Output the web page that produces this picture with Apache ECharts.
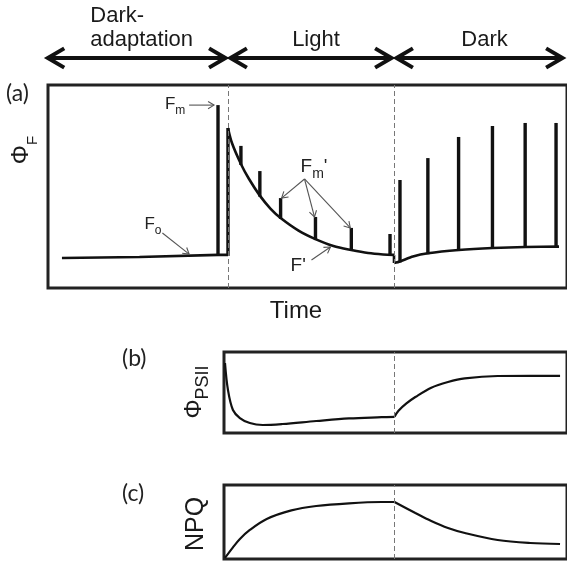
<!DOCTYPE html>
<html><head><meta charset="utf-8">
<script src="https://cdn.jsdelivr.net/npm/echarts@6/dist/echarts.min.js"></script>
<style>html,body{margin:0;padding:0;background:#fff}#c{width:567px;height:561px}</style>
</head><body><div id="c"></div>
<script>
// ---- phases (time in arbitrary units: light on at 0, off at 10) ----
const phaseNames = ['Dark-\nadaptation', 'Light', 'Dark'];
const phaseStart = [-11.0, 0, 10];
const phaseEnd = [0, 10, 20.3];
const boundaries = [0, 10];

// ---- panel (a): chlorophyll fluorescence trace ----
const baseT = [-10.0, -5.33, -0.6, 0];
const baseV = [14.8, 15.3, 16.3, 16.3];
const lightT = [0, 0.24, 0.78, 1.26, 1.92, 2.57, 3.17, 4.25, 5.27, 6.35, 7.43, 8.44, 9.34, 10.0];
const lightV = [78.8, 71.4, 61.1, 53.8, 45.5, 39.0, 34.5, 28.3, 24.1, 20.7, 18.7, 17.2, 16.5, 16.3];
const stepT = [10.0, 10.0];
const stepV = [16.3, 12.3];
const darkT = [10.0, 10.36, 11.14, 12.04, 13.89, 15.93, 17.9, 19.94];
const darkV = [12.3, 13.1, 15.5, 17.1, 18.7, 19.7, 20.2, 20.4];
// saturating pulses
const pulseT = [-0.6, 0, 0.78, 1.92, 3.17, 5.27, 7.43, 9.76, 10.36, 12.04, 13.89, 15.93, 17.9, 19.76];
const pulseBase = [16.3, 16.3, 61.1, 45.5, 34.5, 24.1, 18.7, 16.3, 13.1, 17.1, 18.7, 19.7, 20.2, 20.4];
const pulseTop = [90.1, 78.8, 70.0, 57.6, 44.3, 35.0, 29.6, 26.6, 53.2, 64.0, 74.4, 79.8, 81.3, 81.3];
// annotations
const annText = ['{f|F}{s|m}', '{f|F}{s|o}', "{g|F}{t|m}{g|'}", "{g|F'}"];
const annT = [-2.57, -5.03, 4.37, 3.77];
const annV = [89.7, 30.5, 58.4, 9.9];
const annAlign = ['right', 'left', 'left', 'left'];
const arrowFromT = [-2.34, -3.95, 4.61, 4.61, 4.61, 5.03];
const arrowFromV = [90.1, 27.1, 53.7, 53.7, 53.7, 13.8];
const arrowToT = [-0.84, -2.34, 3.23, 5.21, 7.37, 6.17];
const arrowToV = [90.1, 16.7, 44.3, 35.0, 29.6, 20.2];

// ---- panel (b): PSII efficiency ----
const psiiLightT = [-0.24, -0.06, 0.24, 0.66, 1.26, 2.04, 3.23, 5.27, 7.25, 9.22, 10.0];
const psiiLightV = [86.4, 53.1, 28.4, 18.5, 12.3, 9.9, 11.1, 14.8, 18.0, 19.5, 20.0];
const psiiDarkT = [10.0, 10.24, 10.72, 11.26, 12.22, 13.23, 14.25, 16.23, 18.2, 20.0];
const psiiDarkV = [20.0, 27.5, 36.5, 44.4, 56.0, 63.0, 67.5, 70.4, 70.6, 70.6];

// ---- panel (c): NPQ ----
const npqLightT = [-0.24, 0.24, 0.66, 1.26, 2.28, 3.77, 5.27, 7.25, 9.22, 10.0];
const npqLightV = [1.4, 15.7, 27.0, 39.2, 54.1, 65.7, 71.6, 75.3, 77.0, 77.0];
const npqDarkT = [10.0, 11.26, 12.22, 13.23, 14.25, 16.23, 18.2, 20.0];
const npqDarkV = [77.0, 62.2, 51.4, 41.9, 35.1, 25.7, 21.6, 20.3];

const FONT = '"Liberation Sans", Arial, Helvetica, sans-serif';
const LFONT = 'Lato, "DejaVu Sans", sans-serif';
const INK = '#111';
const zip = (a, b) => a.map((v, i) => [v, b[i]]);

const chart = echarts.init(document.getElementById('c'), null, {renderer: 'canvas'});

function chevron(x, y, ang, len, spread, style) {
  const a1 = ang + Math.PI - spread, a2 = ang + Math.PI + spread;
  return {type: 'polyline', shape: {points: [[x + len * Math.cos(a1), y + len * Math.sin(a1)], [x, y], [x + len * Math.cos(a2), y + len * Math.sin(a2)]]}, style: style};
}
function measure(text, font) {
  const c = document.createElement('canvas').getContext('2d');
  c.font = font;
  return Math.max.apply(null, text.split('\n').map(s => c.measureText(s).width));
}

const dashLine = {silent: true, symbol: ['none', 'none'], label: {show: false}, animation: false,
  lineStyle: {color: '#777', type: [5, 3], width: 1}};
const curveStyle = {color: INK, width: 2.6};
function lineSeries(x, y, data, smooth, extra) {
  return Object.assign({type: 'line', xAxisIndex: x, yAxisIndex: y, data: data, smooth: smooth,
    symbol: 'none', lineStyle: curveStyle, itemStyle: {color: INK}, silent: true, z: 3}, extra || {});
}

const option = {
  animation: false,
  grid: [
    {left: 48, top: 85, width: 522, height: 203, show: true, borderColor: '#222', borderWidth: 3, backgroundColor: 'transparent'},
    {left: 224, top: 352, width: 346, height: 81, show: true, borderColor: '#222', borderWidth: 3, backgroundColor: 'transparent'},
    {left: 224, top: 485, width: 346, height: 74, show: true, borderColor: '#222', borderWidth: 3, backgroundColor: 'transparent'},
    {left: 48, top: 20, width: 522, height: 38, show: false}
  ],
  xAxis: [
    {type: 'value', gridIndex: 0, min: -10.84, max: 20.42, show: false},
    {type: 'value', gridIndex: 1, min: -0.30, max: 20.42, show: false},
    {type: 'value', gridIndex: 2, min: -0.30, max: 20.42, show: false},
    {type: 'value', gridIndex: 3, min: -10.84, max: 20.42, show: false}
  ],
  yAxis: [
    {type: 'value', gridIndex: 0, min: 0, max: 100, show: false},
    {type: 'value', gridIndex: 1, min: 0, max: 100, show: false},
    {type: 'value', gridIndex: 2, min: 0, max: 100, show: false},
    {type: 'value', gridIndex: 3, min: 0, max: 1, show: false}
  ],
  series: [
    lineSeries(0, 0, zip(baseT, baseV), false, {markLine: Object.assign({data: boundaries.map(b => ({xAxis: b}))}, dashLine)}),
    lineSeries(0, 0, zip(lightT, lightV), 0.3),
    lineSeries(0, 0, zip(stepT, stepV), false),
    lineSeries(0, 0, zip(darkT, darkV), 0.2),
    {
      type: 'custom', xAxisIndex: 0, yAxisIndex: 0, silent: true, z: 4,
      data: pulseT.map((t, i) => [t, pulseBase[i], pulseTop[i]]),
      encode: {x: 0, y: [1, 2]},
      renderItem: function (params, api) {
        const p0 = api.coord([api.value(0), api.value(1)]);
        const p1 = api.coord([api.value(0), api.value(2)]);
        return {type: 'line', shape: {x1: p0[0], y1: p0[1] + 1, x2: p1[0], y2: p1[1]},
          style: {stroke: INK, lineWidth: 3.4, lineCap: 'butt'}};
      }
    },
    {
      type: 'custom', xAxisIndex: 0, yAxisIndex: 0, silent: true, z: 5,
      data: arrowFromT.map((t, i) => [t, arrowFromV[i], arrowToT[i], arrowToV[i]]),
      encode: {x: [0, 2], y: [1, 3]},
      renderItem: function (params, api) {
        const p0 = api.coord([api.value(0), api.value(1)]);
        const p1 = api.coord([api.value(2), api.value(3)]);
        const ang = Math.atan2(p1[1] - p0[1], p1[0] - p0[0]);
        const st = {stroke: '#555', lineWidth: 1.1, fill: null};
        return {type: 'group', children: [
          {type: 'line', shape: {x1: p0[0], y1: p0[1], x2: p1[0], y2: p1[1]}, style: st},
          chevron(p1[0], p1[1], ang, 7, 0.55, st)
        ]};
      }
    },
    {
      type: 'custom', xAxisIndex: 0, yAxisIndex: 0, silent: true, z: 6,
      data: annT.map((t, i) => [t, annV[i], i]),
      encode: {x: 0, y: 1},
      renderItem: function (params, api) {
        const i = api.value(2);
        const p = api.coord([api.value(0), api.value(1)]);
        return {type: 'text', x: p[0], y: p[1], style: {
          text: annText[i], align: annAlign[i], verticalAlign: 'middle', fill: '#222',
          rich: {
            f: {fontSize: 17, fontFamily: FONT, fill: '#222', verticalAlign: 'bottom', padding: [0, 0, 4, 0]},
            s: {fontSize: 12, fontFamily: FONT, fill: '#222', verticalAlign: 'bottom'},
            g: {fontSize: 19, fontFamily: FONT, fill: '#222', verticalAlign: 'bottom', padding: [0, 0, 5, 0]},
            t: {fontSize: 14, fontFamily: FONT, fill: '#222', verticalAlign: 'bottom'}
          }
        }};
      }
    },
    lineSeries(1, 1, zip(psiiLightT, psiiLightV), 0.35, {lineStyle: {color: INK, width: 2.2},
      markLine: Object.assign({data: [{xAxis: boundaries[1]}]}, dashLine)}),
    lineSeries(1, 1, zip(psiiDarkT, psiiDarkV), 0.35, {lineStyle: {color: INK, width: 2.2}}),
    lineSeries(2, 2, zip(npqLightT, npqLightV), 0.35, {lineStyle: {color: INK, width: 2.2},
      markLine: Object.assign({data: [{xAxis: boundaries[1]}]}, dashLine)}),
    lineSeries(2, 2, zip(npqDarkT, npqDarkV), 0.35, {lineStyle: {color: INK, width: 2.2}}),
    {
      type: 'custom', xAxisIndex: 3, yAxisIndex: 3, silent: true, z: 5,
      data: phaseStart.map((s, i) => [s, phaseEnd[i], 0, i]),
      encode: {x: [0, 1], y: 2},
      renderItem: function (params, api) {
        const i = api.value(3);
        const a = api.coord([api.value(0), api.value(2)]);
        const b = api.coord([api.value(1), api.value(2)]);
        const x0 = a[0] + 2.5, x1 = b[0] - 2.5, y = a[1];
        const st = {stroke: INK, lineWidth: 4, fill: null, lineJoin: 'miter'};
        const font = '22px ' + FONT;
        const w = measure(phaseNames[i], font);
        const cx = (x0 + x1) / 2;
        return {type: 'group', children: [
          {type: 'line', shape: {x1: x0 + 2, y1: y, x2: x1 - 2, y2: y}, style: st},
          chevron(x0, y, Math.PI, 19, 0.53, st),
          chevron(x1, y, 0, 19, 0.53, st),
          {type: 'text', x: cx - w / 2 + 5, y: y - 6, style: {text: phaseNames[i], font: font, fill: '#1a1a1a',
            align: 'left', verticalAlign: 'bottom', lineHeight: 24}}
        ]};
      }
    }
  ],
  graphic: [
    {type: 'text', x: 6, y: 94, style: {text: '(a)', font: '23px ' + LFONT, fill: '#222', textAlign: 'left', align: 'left', textVerticalAlign: 'middle', verticalAlign: 'middle'}},
    {type: 'text', x: 122, y: 359, style: {text: '(b)', font: '23px ' + LFONT, fill: '#222', textAlign: 'left', align: 'left', textVerticalAlign: 'middle', verticalAlign: 'middle'}},
    {type: 'text', x: 122, y: 494, style: {text: '(c)', font: '23px ' + LFONT, fill: '#222', textAlign: 'left', align: 'left', textVerticalAlign: 'middle', verticalAlign: 'middle'}},
    {type: 'text', x: 296, y: 311, style: {text: 'Time', font: '24px ' + FONT, fill: '#1a1a1a', textAlign: 'center', align: 'center', textVerticalAlign: 'middle', verticalAlign: 'middle'}},
    {type: 'text', x: 25, y: 150, rotation: Math.PI / 2, style: {text: '{p|Φ}{s|F}', align: 'center', textAlign: 'center', verticalAlign: 'middle', textVerticalAlign: 'middle',
      rich: {p: {fontSize: 24, fontFamily: FONT, fill: '#1a1a1a', verticalAlign: 'bottom', padding: [0, 0, 7, 0]}, s: {fontSize: 15, fontFamily: FONT, fill: '#1a1a1a', verticalAlign: 'bottom'}}}},
    {type: 'text', x: 197, y: 392, rotation: Math.PI / 2, style: {text: '{p|Φ}{s|PSII}', align: 'center', textAlign: 'center', verticalAlign: 'middle', textVerticalAlign: 'middle',
      rich: {p: {fontSize: 24, fontFamily: FONT, fill: '#1a1a1a', verticalAlign: 'bottom', padding: [0, 0, 6, 0]}, s: {fontSize: 18, fontFamily: FONT, fill: '#1a1a1a', verticalAlign: 'bottom'}}}},
    {type: 'text', x: 196, y: 524, rotation: Math.PI / 2, style: {text: 'NPQ', font: '25px ' + FONT, fill: '#1a1a1a', align: 'center', textAlign: 'center', verticalAlign: 'middle', textVerticalAlign: 'middle'}}
  ]
};
chart.setOption(option);
</script>
</body></html>
